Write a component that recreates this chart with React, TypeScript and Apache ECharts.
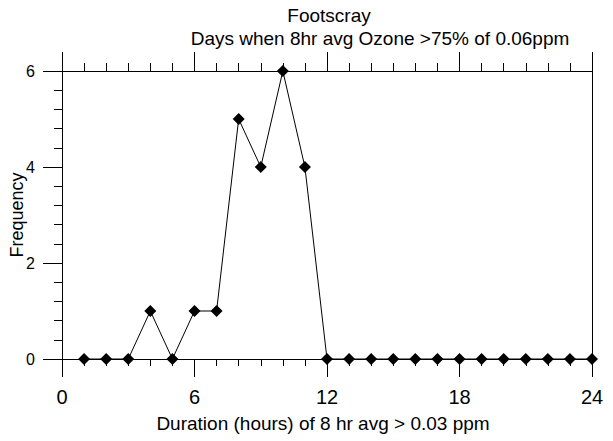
import React, { useEffect, useRef } from "react";
import * as echarts from "echarts";

const durationHours = [1, 2, 3, 4, 5, 6, 7, 8, 9, 10, 11, 12, 13, 14, 15, 16, 17, 18, 19, 20, 21, 22, 23, 24];
const frequency = [0, 0, 0, 1, 0, 1, 1, 5, 4, 6, 4, 0, 0, 0, 0, 0, 0, 0, 0, 0, 0, 0, 0, 0];
const titleMain = "Footscray";
const titleSub = "Days when 8hr avg Ozone >75% of 0.06ppm";
const xName = "Duration (hours) of 8 hr avg > 0.03 ppm";
const yName = "Frequency";

const FONT = "'Liberation Sans', Arial, sans-serif";

export default function App() {
  const ref = useRef<HTMLDivElement>(null);
  useEffect(() => {
    if (!ref.current) return;
    const chart = echarts.init(ref.current, null, { renderer: "svg" });
    const axisLine = { show: true, lineStyle: { color: "#000", width: 1 } };
    chart.setOption({
      animation: false,
      backgroundColor: "#fff",
      textStyle: { fontFamily: FONT },
      graphic: [
        {
          type: "text",
          x: 329,
          y: 6,
          style: { text: titleMain, font: `19px ${FONT}`, fill: "#000", align: "center", verticalAlign: "top" },
        },
        {
          type: "text",
          x: 380,
          y: 29,
          style: { text: titleSub, font: `19px ${FONT}`, fill: "#000", align: "center", verticalAlign: "top" },
        },
      ],
      grid: { left: 62, right: 21, top: 71, bottom: 82, containLabel: false, outerBoundsMode: "none" },
      xAxis: [
        {
          type: "value",
          position: "bottom",
          min: 0,
          max: 24,
          interval: 6,
          name: xName,
          nameLocation: "middle",
          nameGap: 55,
          nameMoveOverlap: false,
          nameTextStyle: { fontSize: 19, color: "#000", fontFamily: FONT, padding: [0, 8, 0, 0] },
          axisLine: { ...axisLine, onZero: false },
          axisTick: { show: true, length: 18, lineStyle: { color: "#000" } },
          minorTick: { show: true, splitNumber: 6, length: 7, lineStyle: { color: "#000" } },
          axisLabel: { fontSize: 20, color: "#000", margin: 28, fontFamily: FONT },
          splitLine: { show: false },
        },
        {
          type: "value",
          position: "top",
          min: 0,
          max: 24,
          interval: 6,
          axisLine: { ...axisLine, onZero: false },
          axisTick: { show: true, length: 19, lineStyle: { color: "#000" } },
          minorTick: { show: true, splitNumber: 6, length: 8, lineStyle: { color: "#000" } },
          axisLabel: { show: false },
          splitLine: { show: false },
        },
      ],
      yAxis: [
        {
          type: "value",
          position: "left",
          min: 0,
          max: 6,
          interval: 2,
          name: yName,
          nameLocation: "middle",
          nameGap: 36,
          nameMoveOverlap: false,
          nameTextStyle: { fontSize: 18, color: "#000", fontFamily: FONT },
          axisLine: { ...axisLine, onZero: false },
          axisTick: { show: true, length: 19, lineStyle: { color: "#000" } },
          minorTick: { show: true, splitNumber: 5, length: 8, lineStyle: { color: "#000" } },
          axisLabel: { fontSize: 16, color: "#000", margin: 27, fontFamily: FONT },
          splitLine: { show: false },
        },
        {
          type: "value",
          position: "right",
          min: 0,
          max: 6,
          interval: 2,
          axisLine: { ...axisLine, onZero: false },
          axisTick: { show: false },
          axisLabel: { show: false },
          splitLine: { show: false },
        },
      ],
      series: [
        {
          type: "line",
          xAxisIndex: 0,
          yAxisIndex: 0,
          data: durationHours.map((d, i) => [d, frequency[i]]),
          symbol: "diamond",
          symbolSize: 12,
          clip: false,
          lineStyle: { color: "#000", width: 1 },
          itemStyle: { color: "#000" },
        },
      ],
    });
    return () => chart.dispose();
  }, []);
  return <div ref={ref} style={{ position: "absolute", left: 0, top: 0, width: 613, height: 441 }} />;
}
